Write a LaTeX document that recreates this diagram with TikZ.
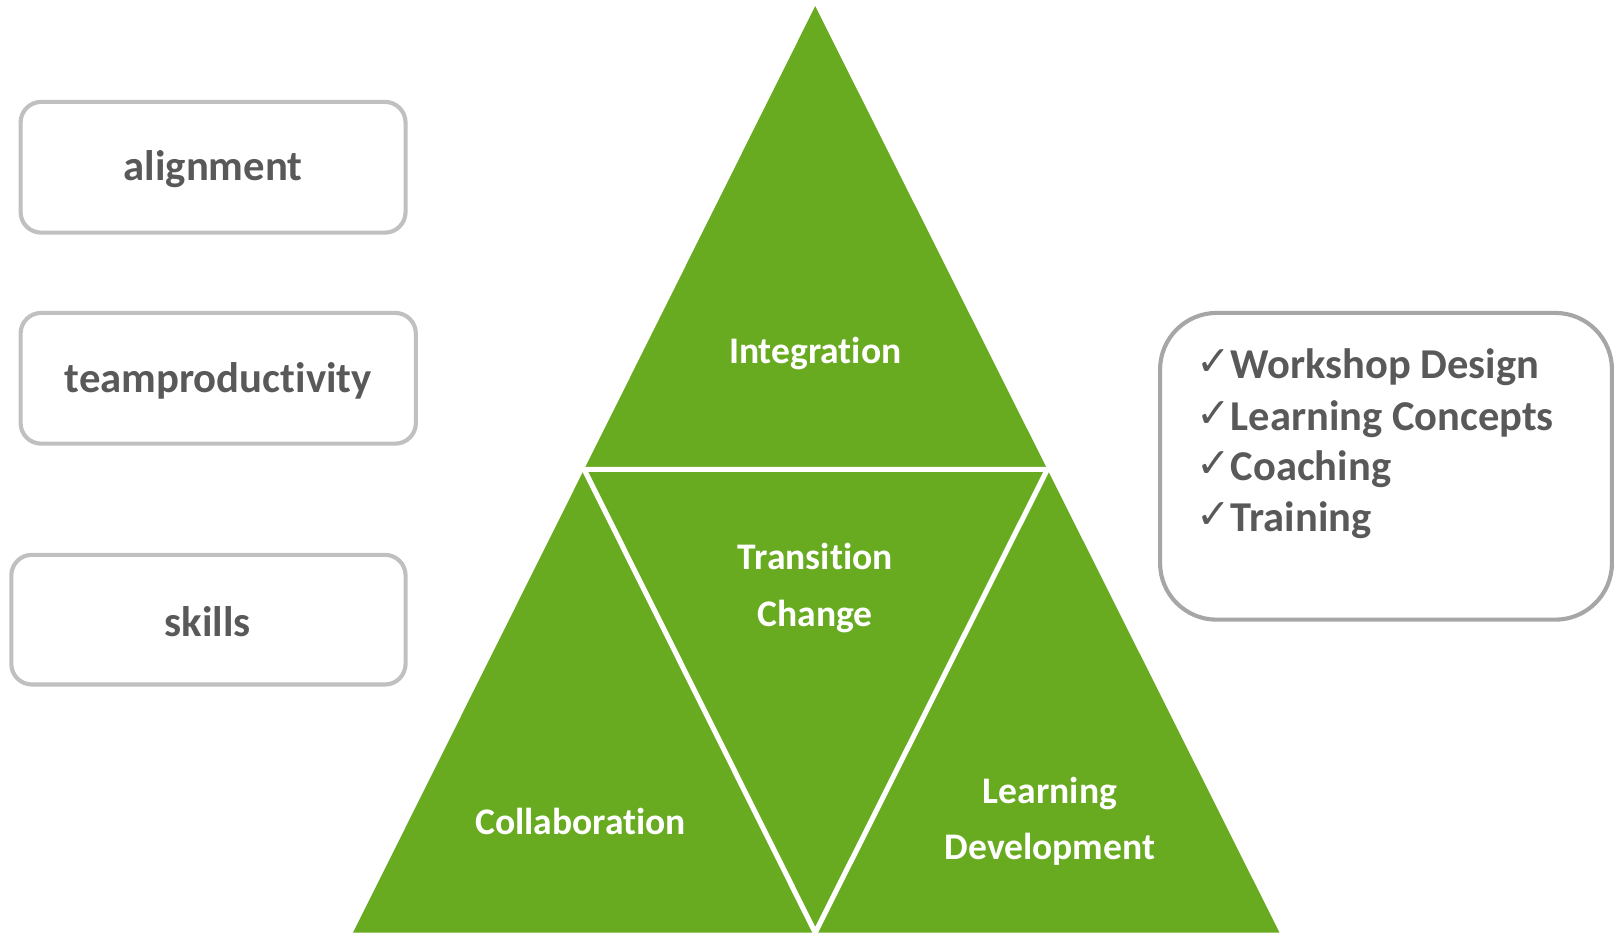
\documentclass[tikz,border=0pt]{standalone}
\usepackage{fontspec}
\setmainfont[Ligatures=CommonOff]{Carlito}
\newfontfamily\symfont{DejaVu Sans}
\definecolor{leafgreen}{RGB}{104,170,32}
\definecolor{boxgray}{RGB}{192,192,192}
\definecolor{boxgraydark}{RGB}{166,166,166}
\definecolor{txtgray}{RGB}{89,89,89}
\newcommand{\chk}{{\symfont\fontsize{40}{44}\selectfont\raisebox{3pt}{✓}}}
\begin{document}
\begin{tikzpicture}[x=1pt,y=-1pt,
  sidebox/.style={draw=boxgray,line width=4pt,rounded corners=20pt,fill=white},
  sidetext/.style={text=txtgray,font=\fontsize{41.5}{50}\selectfont\bfseries},
  tritext/.style={text=white,font=\fontsize{36.5}{55}\selectfont\bfseries,align=center},
  listtext/.style={text=txtgray,font=\fontsize{41.3}{50}\selectfont\bfseries,anchor=base west,inner sep=0pt},
  whiteline/.style={draw=white,line width=5pt,line join=miter}]
\useasboundingbox (0,0) rectangle (1568,906);
% pyramid
\coordinate (apex) at (792,6);
\coordinate (bl) at (343,906);
\coordinate (br) at (1243,906);
\coordinate (ml) at (567.5,456);
\coordinate (mr) at (1017.5,456);
\coordinate (mb) at (792,906);
\fill[leafgreen] (apex) -- (bl) -- (br) -- cycle;
\draw[whiteline] (ml) -- (mr) -- (mb) -- cycle;
\node[tritext] (integ) at (792,343) {Integration};
\node[tritext] (trans) at (792,571) {Transition\\Change};
\node[tritext] (collab) at (564,798) {Collaboration};
\node[tritext] (learn) at (1020,798) {Learning\\Development};
% left boxes
\draw[sidebox] (20,99) rectangle (394,226);
\node[sidetext] (align) at (207,164) {alignment};
\draw[sidebox] (20,304) rectangle (404,431);
\node[sidetext] (team) at (212,370) {teamproductivity};
\draw[sidebox] (11,539) rectangle (394,665);
\node[sidetext] (skills) at (202,604) {skills};
% right box
\draw[draw=boxgraydark,line width=4pt,rounded corners=55pt,fill=white] (1127,304) rectangle (1566,602);
\node[listtext] (l1) at (1162,368) {\chk Workshop Design};
\node[listtext] (l2) at (1162,418) {\chk Learning Concepts};
\node[listtext] (l3) at (1162,467) {\chk Coaching};
\node[listtext] (l4) at (1162,516) {\chk Training};
\end{tikzpicture}
\end{document}
